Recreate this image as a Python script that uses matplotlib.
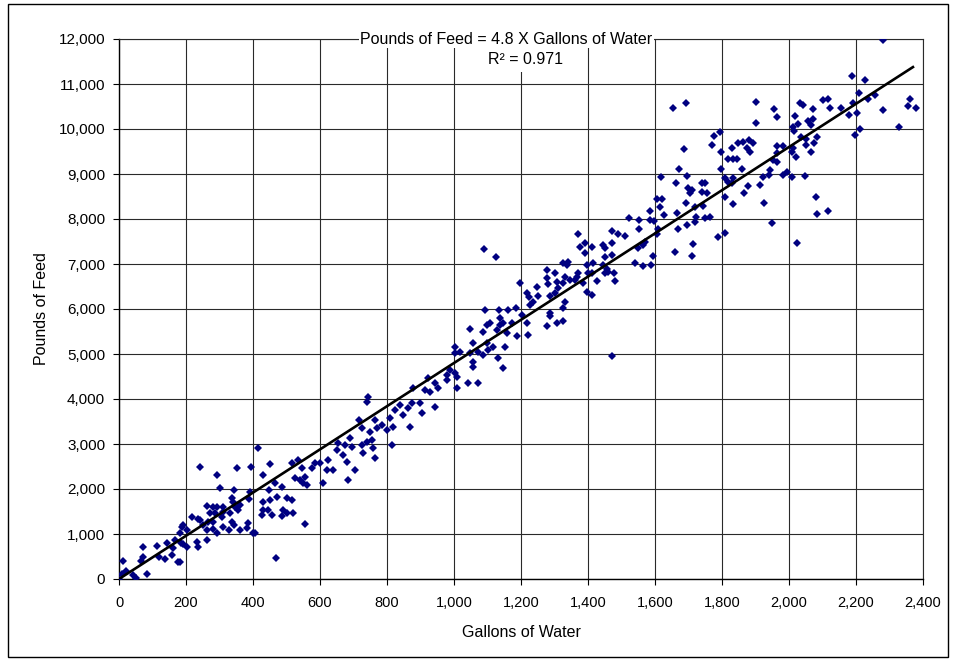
"""Pounds of feed vs gallons of water scatter with a through-origin trendline.
Points read off the reference chart region by region (gallons, pounds).
"""
import numpy as np
import matplotlib.pyplot as plt
from matplotlib.patches import Rectangle
from matplotlib.ticker import FuncFormatter, MultipleLocator

plt.rcParams['font.family'] = ['Liberation Sans', 'DejaVu Sans']

# ----- data: (gallons of water, pounds of feed) -----
pts_0_200 = [(0, 0), (8, 120), (22, 180), (12, 400), (42, 90), (51, 20), (84, 110),
             (72, 710), (72, 490), (66, 400), (114, 730), (120, 490), (137, 440),
             (143, 800), (157, 530), (161, 690), (167, 870), (176, 380)]

pts_200_700 = [(415, 2910), (242, 2490), (352, 2470), (394, 2490), (451, 2560), (293, 2310),
               (430, 2310), (302, 2020), (343, 1980), (391, 1930), (448, 1980), (466, 2130),
               (487, 2040), (472, 1820), (337, 1800), (340, 1710), (388, 1780), (430, 1710),
               (451, 1760), (430, 1530), (427, 1420), (445, 1530), (457, 1420), (501, 1800),
               (516, 1760), (490, 1530), (501, 1470), (487, 1400), (519, 1470), (555, 1220),
               (469, 470), (406, 1020), (400, 1020), (385, 1240), (382, 1130), (361, 1090),
               (343, 1200), (337, 1270), (311, 1160), (328, 1090), (281, 1110), (293, 1020),
               (266, 1270), (281, 1270), (287, 1470), (272, 1470), (308, 1380), (311, 1490),
               (331, 1470), (355, 1530), (346, 1600), (361, 1640), (281, 1600), (293, 1600),
               (311, 1600), (263, 1620), (242, 1310), (236, 1330), (218, 1380), (251, 1200),
               (263, 1090), (188, 1160), (203, 1090), (191, 1200), (203, 710), (233, 820),
               (263, 870), (182, 380), (185, 800), (236, 710), (191, 780), (182, 1020),
               (516, 2580), (534, 2640), (546, 2470), (525, 2240), (540, 2200), (555, 2270),
               (561, 2090), (549, 2130), (576, 2470), (585, 2580), (600, 2580), (609, 2130),
               (621, 2420), (624, 2640), (639, 2420), (651, 2870), (669, 2760), (654, 3020),
               (675, 2980), (681, 2600), (684, 2200)]

pts_700_1000 = [(743, 4040), (740, 3930), (716, 3530), (725, 3360), (690, 3130), (704, 2420),
                (728, 2800), (725, 2980), (696, 2930), (740, 3040), (755, 3090), (758, 2910),
                (764, 2690), (749, 3270), (764, 3530), (770, 3360), (785, 3420), (800, 3310),
                (815, 2980), (818, 3380), (809, 3580), (824, 3760), (839, 3870), (848, 3640),
                (863, 3800), (875, 3910), (869, 3380), (878, 4240), (899, 3910), (904, 3690),
                (913, 4200), (922, 4470), (928, 4160), (943, 3820), (943, 4360), (952, 4240),
                (979, 4530), (979, 4420)]

pts_1000_1330 = [(1048, 5560), (1087, 5490), (1099, 5640), (1107, 5690), (1128, 5530),
                 (1137, 5800), (1146, 5690), (1137, 5640), (1158, 5470), (1173, 5690),
                 (1188, 5400), (1218, 5690), (1221, 5420), (1203, 5870), (1278, 5620),
                 (1287, 5840), (1307, 5690), (1003, 5160), (1003, 5020), (1018, 5040),
                 (1057, 5240), (1048, 5020), (1072, 5040), (1087, 4980), (1099, 5240),
                 (1101, 5090), (1116, 5160), (1131, 4910), (1152, 5160), (1146, 4690),
                 (1057, 4820), (1057, 4710), (1003, 4580), (1009, 4490), (1042, 4360),
                 (1072, 4360), (1009, 4240), (988, 4640),
                 (1090, 7330), (1125, 7160), (1197, 6580), (1278, 6870), (1301, 6800),
                 (1278, 6690), (1281, 6560), (1307, 6600), (1310, 6470), (1248, 6490),
                 (1218, 6360), (1224, 6270), (1251, 6290), (1236, 6160), (1287, 6290),
                 (1301, 6360), (1227, 6090), (1093, 5980), (1134, 5980), (1161, 5980),
                 (1185, 6020), (1287, 5910)]

pts_1330_1650 = [(1472, 4960), (1325, 5730), (1325, 6020), (1331, 6160), (1325, 6580),
                 (1331, 6710), (1340, 7040), (1325, 7020), (1376, 7380), (1391, 7470),
                 (1391, 7240), (1412, 7380), (1445, 7420), (1451, 7360), (1472, 7470),
                 (1451, 7160), (1472, 7200), (1397, 6980), (1415, 7020), (1445, 6980),
                 (1457, 6890), (1451, 6800), (1460, 6820), (1478, 6800), (1481, 6620),
                 (1427, 6620), (1412, 6800), (1400, 6800), (1367, 6710), (1370, 6800),
                 (1361, 6640), (1385, 6580), (1397, 6380), (1412, 6310), (1346, 6640),
                 (1337, 6980), (1540, 7020), (1564, 6960), (1588, 6980), (1594, 7180),
                 (1549, 7360), (1564, 7420), (1570, 7490),
                 (1618, 8930), (1606, 8440), (1621, 8440), (1615, 8270), (1585, 8180),
                 (1627, 8090), (1522, 8020), (1552, 7980), (1585, 7980), (1597, 7960),
                 (1552, 7780), (1609, 7780), (1606, 7670), (1472, 7730), (1490, 7670),
                 (1510, 7620), (1370, 7670), (1687, 9560)]

pts_1650_2000 = [(1672, 9110), (1696, 8960), (1663, 8800), (1699, 8690), (1711, 8640),
                 (1705, 8580), (1740, 8800), (1749, 8800), (1740, 8600), (1755, 8580),
                 (1693, 8360), (1719, 8270), (1743, 8290), (1666, 8130), (1722, 8040),
                 (1719, 7930), (1749, 8020), (1764, 8040), (1669, 7780), (1696, 7870),
                 (1788, 7600), (1809, 7690), (1713, 7440), (1660, 7270), (1711, 7180),
                 (1797, 9110), (1809, 8910), (1818, 8820), (1833, 8910), (1830, 8800),
                 (1860, 9110), (1878, 8730), (1866, 8580), (1833, 8330), (1809, 8490),
                 (1913, 8760), (1922, 8930), (1940, 8980), (1943, 9090), (1925, 8360),
                 (1949, 7910), (1982, 8980), (1994, 9040), (2024, 7470),
                 (1654, 10470), (1693, 10580), (1901, 10600), (1955, 10440), (1964, 10270),
                 (1901, 10130), (1794, 9930), (1776, 9840), (1770, 9640), (1797, 9490),
                 (1830, 9580), (1848, 9690), (1863, 9710), (1881, 9760), (1893, 9690),
                 (1875, 9580), (1884, 9490), (1964, 9620), (1982, 9620), (1964, 9470),
                 (1952, 9310), (1818, 9330), (1833, 9330), (1845, 9330), (1964, 9270)]

pts_2000_2400 = [(2281, 11980), (2188, 11180), (2227, 11090), (2209, 10800), (2033, 10580),
                 (2042, 10530), (2101, 10640), (2116, 10670), (2122, 10470), (2072, 10440),
                 (2155, 10470), (2191, 10580), (2236, 10670), (2257, 10760), (2179, 10310),
                 (2203, 10360), (2281, 10420), (2361, 10670), (2355, 10510), (2379, 10470),
                 (2328, 10040), (2212, 10000), (2197, 9870), (2018, 10290), (2027, 10110),
                 (2057, 10180), (2072, 10220), (2066, 10090), (2012, 10040), (2015, 9960),
                 (2036, 9820), (2051, 9780), (2084, 9820), (2075, 9690), (2051, 9640),
                 (2066, 9490), (2012, 9580), (2021, 9380), (2009, 9490), (2009, 8930),
                 (2048, 8960), (2081, 8490), (2084, 8110), (2116, 8180)]

SLOPE = 4.8          # lbs feed per gallon, trendline forced through origin
R2 = 0.971
LINE_END = 2370      # trendline stops just short of the last gridline


def thousands(v, _pos):
    return f"{int(v):,}"


def main():
    pts = np.array(pts_0_200 + pts_200_700 + pts_700_1000 + pts_1000_1330
                   + pts_1330_1650 + pts_1650_2000 + pts_2000_2400, dtype=float)
    gallons, feed = pts[:, 0], pts[:, 1]

    W, H = 956, 661
    fig = plt.figure(figsize=(W / 100, H / 100), dpi=100)
    ax = fig.add_axes([119 / W, 1 - 579 / H, (923 - 119) / W, (579 - 39) / H])

    # outer chart-area border
    fig.patches.append(Rectangle((8 / W, 1 - 657 / H), (948 - 8) / W, (657 - 4) / H,
                                 transform=fig.transFigure, fill=False,
                                 edgecolor="black", linewidth=1.0))

    ax.plot(gallons, feed, linestyle="none", marker="D", markersize=4.3,
            color="#000080", markeredgewidth=0, zorder=3)

    xl = np.array([0, LINE_END])
    ax.plot(xl, SLOPE * xl, color="black", linewidth=1.9, zorder=4)

    ax.set_xlim(0, 2400); ax.set_ylim(0, 12000)
    ax.xaxis.set_major_locator(MultipleLocator(200))
    ax.yaxis.set_major_locator(MultipleLocator(1000))
    ax.xaxis.set_major_formatter(FuncFormatter(thousands))
    ax.yaxis.set_major_formatter(FuncFormatter(thousands))
    ax.grid(True, color="#2a2a2a", linewidth=0.8, zorder=0)
    ax.set_axisbelow(True)
    for side in ("top", "right"):
        ax.spines[side].set_color("#2a2a2a"); ax.spines[side].set_linewidth(0.8)
    for side in ("left", "bottom"):
        ax.spines[side].set_color("black"); ax.spines[side].set_linewidth(1.0)
    ax.tick_params(direction="out", length=4, width=0.8)
    ax.tick_params(axis="x", labelsize=10.5, pad=8)
    ax.tick_params(axis="y", labelsize=11, pad=6)

    ax.set_xlabel("Gallons of Water", fontsize=11.5, labelpad=11)
    ax.set_ylabel("Pounds of Feed", fontsize=11.5, labelpad=7)

    ax.text(506 / W, 1 - 39 / H, f"Pounds of Feed = {SLOPE} X Gallons of Water",
            transform=fig.transFigure, ha="center", va="center", fontsize=11.5,
            bbox=dict(facecolor="white", edgecolor="none", pad=1.0), zorder=5)
    ax.text(526 / W, 1 - 60 / H, f"R\u00b2 = {R2}",
            transform=fig.transFigure, ha="center", va="center", fontsize=11.5,
            bbox=dict(facecolor="white", edgecolor="none", pad=3.0), zorder=5)

    fig.savefig("out.png", dpi=100)
    plt.close(fig)


if __name__ == "__main__":
    main()
